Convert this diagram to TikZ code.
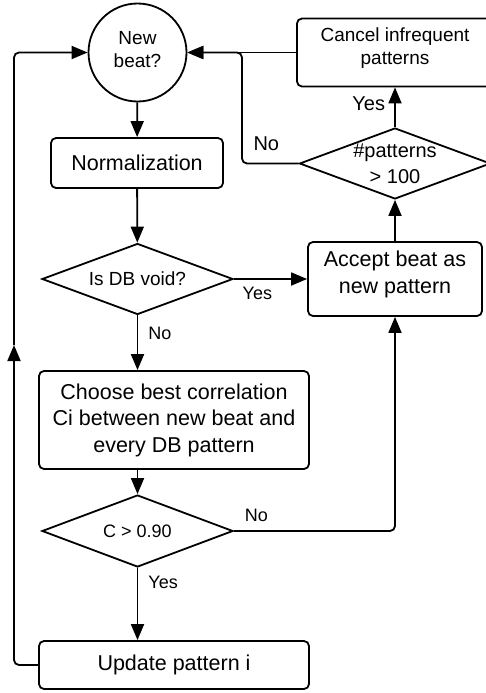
\documentclass[tikz,border=0pt]{standalone}
\usepackage{fontspec}
\setmainfont{Liberation Sans}
\usetikzlibrary{arrows.meta, positioning, shapes.geometric}
\tikzset{
  flowline/.style={line width=1.8pt, rounded corners=5pt},
  flowarrow/.style={flowline, -{Triangle[length=16pt, width=13pt]}},
  procbox/.style={draw, line width=1.8pt, rounded corners=5pt, inner sep=0pt,
    align=center, font=\fontsize{21.5}{26.5}\selectfont},
  decision/.style={draw, diamond, line width=1.8pt, shape aspect=2.7,
    inner sep=-6pt, align=center, minimum width=191pt, minimum height=71pt,
    font=\fontsize{19}{25}\selectfont},
  edgelabel/.style={inner sep=0pt, font=\fontsize{18}{21}\selectfont}
}
\begin{document}
\begin{tikzpicture}[x=1pt, y=-1pt]
    \useasboundingbox (0,0) rectangle (486,693);
    \clip (0,0) rectangle (486,693);
    % Start of the loop
    \node[draw, circle, line width=1.8pt, minimum size=98pt, inner sep=0pt,
      align=center, text depth=6pt, font=\fontsize{19}{23}\selectfont] (beat)
      at (137.5,52.5) {New\\beat?};
    \node[procbox, minimum width=172pt, minimum height=50pt] (norm)
      at (137,163) {Normalization};
    \node[decision] (void) at (137.5,279) {Is DB void?};
    \node[procbox, minimum width=270pt, minimum height=98pt] (choose)
      at (174,420) {Choose best correlation\\Ci between new beat and\\every DB pattern};
    \node[decision, minimum height=72pt, font=\fontsize{18}{22}\selectfont]
      (thresh) at (137.5,531) {C > 0.90};
    \node[procbox, minimum width=270pt, minimum height=48pt] (update)
      at (174,665) {Update pattern i};
    % Right column
    \node[procbox, minimum width=174pt, minimum height=74pt, text depth=14pt]
      (accept) at (395,279) {Accept beat as\\new pattern};
    \node[decision, font=\fontsize{20}{26}\selectfont] (count)
      at (395,163.5) {\#patterns\\> 100};
    \node[procbox, minimum width=196pt, minimum height=68pt, text depth=12pt,
      font=\fontsize{19}{23}\selectfont] (cancel) at (395,52.5)
      {Cancel infrequent\\patterns};
    % Bend points
    \coordinate (junc) at (242,52.5);
    \coordinate (midup) at (14,345);
    \coordinate (loopc) at (14,52.5);
    % Main column
    \draw[flowarrow] (beat) -- (norm);
    \draw[flowarrow] (norm) -- (void);
    \draw[flowarrow] (void.south) -- node[edgelabel, right=10pt, pos=0.32] {No}
      (void.south |- choose.north);
    \draw[flowarrow] (thresh.north |- choose.south) -- (thresh.north);
    \draw[flowarrow] (thresh.south) -- node[edgelabel, right=10pt, pos=0.2] {Yes}
      (thresh.south |- update.north);
    % Branches to the right
    \draw[flowarrow] (void.east) -- node[edgelabel, below=7pt, pos=0.32] {Yes}
      (accept.west);
    \draw[flowarrow] (thresh.east) -| node[edgelabel, above=8pt, pos=0.07] {No}
      (accept.south);
    \draw[flowarrow] (accept) -- (count);
    \draw[flowarrow] (count) -- node[edgelabel, left=9pt, pos=0.6,
      font=\fontsize{20}{24}\selectfont] {Yes} (cancel);
    % Back to the start
    \draw[flowarrow] (count.west) -- node[edgelabel, above=12pt, pos=0.57,
      font=\fontsize{20}{24}\selectfont] {No} (count.west -| junc) -- (junc)
      -- (beat.east);
    \draw[flowarrow] (cancel.west) -- (beat.east);
    \draw[flowarrow] (update.west) -| (midup);
    \draw[flowarrow] (midup) -- (loopc) -- (beat.west);
  \end{tikzpicture}
\end{document}
